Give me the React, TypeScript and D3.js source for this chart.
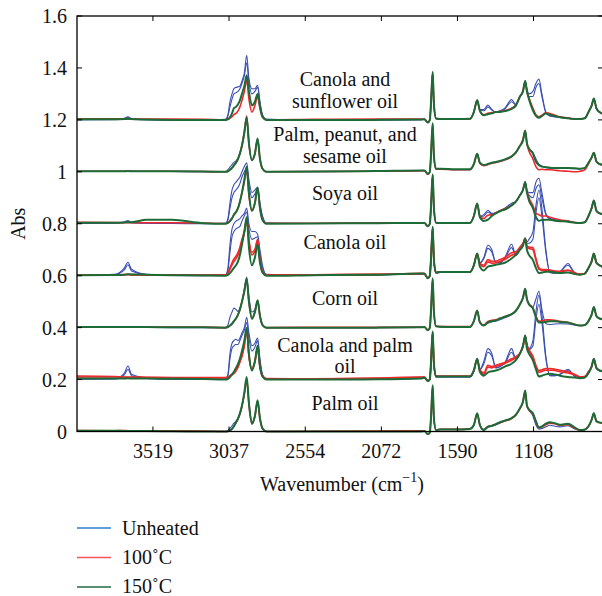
import React from "react";
import * as d3 from "d3";

// Wavenumber grid (cm^-1) shared by every spectrum
const WAVENUMBERS = [
  4000, 3760, 3700, 3677, 3655, 3560, 3400, 3200,
  3060, 3044, 3031, 3018, 3006, 2993, 2980, 2968, 2955,
  2940, 2925, 2911, 2892, 2873, 2856, 2841, 2825, 2800,
  2500, 2100, 1820,
  1800, 1777, 1765, 1758, 1747, 1739, 1726, 1700,
  1600, 1511, 1486, 1465, 1448, 1423, 1397, 1372,
  1347, 1321, 1290, 1247, 1220, 1194, 1175, 1161,
  1150, 1137, 1112, 1093, 1074, 1055, 1030, 1004,
  973, 941, 890, 846, 814, 783, 760, 740,
  726, 710, 690, 650,
];

const X_TICKS = [3519, 3037, 2554, 2072, 1590, 1108];
const Y_TICKS = [0, 0.2, 0.4, 0.6, 0.8, 1, 1.2, 1.4, 1.6];

const GROUP_OFFSETS = [0, 0.2, 0.4, 0.6, 0.8, 1.0, 1.2];
const GROUP_LABELS = [
  ["Palm oil"],
  ["Canola and palm", "oil"],
  ["Corn oil"],
  ["Canola oil"],
  ["Soya oil"],
  ["Palm, peanut, and", "sesame oil"],
  ["Canola and", "sunflower oil"],
];

const LEGEND = ["Unheated", "100\u02DAC", "150\u02DAC"];

// ---- Palm oil (offset 0)
const PALM_B = [
  0.001, 0.001, 0.002, 0.002, 0.001, 0.001, 0.001, 0,
  0, 0.004, 0.012, 0.022, 0.032, 0.04, 0.05, 0.065, 0.095,
  0.145, 0.2, 0.11, 0.035, 0.06, 0.118, 0.05, 0.012, 0,
  0, 0, 0.001,
  0.002, -0.01, -0.004, 0.05, 0.176, 0.05, 0.006, 0.008,
  0.008, 0.01, 0.025, 0.069, 0.027, 0.008, 0.02, 0.022,
  0.026, 0.032, 0.04, 0.05, 0.064, 0.09, 0.115, 0.156,
  0.1, 0.082, 0.06, 0.025, 0.01, 0.012, 0.018, 0.024,
  0.02, 0.018, 0.022, 0.01, 0.005, 0.007, 0.02, 0.045,
  0.07, 0.04, 0.035, 0.03,
];
const PALM_R = [
  0.004, 0.003, 0.004, 0.003, 0.003, 0.002, 0.003, 0.002,
  0, 0.001, 0.004, 0.01, 0.02, 0.033, 0.048, 0.068, 0.098,
  0.145, 0.2, 0.105, 0.03, 0.058, 0.115, 0.05, 0.012, 0,
  0.001, 0.002, 0.003,
  0.003, -0.01, -0.004, 0.05, 0.176, 0.05, 0.006, 0.008,
  0.008, 0.01, 0.025, 0.068, 0.025, 0.006, 0.018, 0.022,
  0.027, 0.034, 0.04, 0.05, 0.063, 0.088, 0.113, 0.155,
  0.1, 0.082, 0.068, 0.038, 0.015, 0.018, 0.026, 0.032,
  0.03, 0.024, 0.026, 0.012, 0.005, 0.007, 0.02, 0.045,
  0.068, 0.04, 0.034, 0.03,
];
const PALM_G = [
  0.003, 0.003, 0.002, 0.002, 0.002, 0.002, 0.001, 0,
  0, 0.001, 0.004, 0.01, 0.02, 0.035, 0.05, 0.07, 0.1,
  0.15, 0.21, 0.11, 0.03, 0.06, 0.12, 0.05, 0.012, 0,
  0, 0, 0,
  0.002, -0.01, -0.004, 0.05, 0.178, 0.05, 0.006, 0.008,
  0.008, 0.01, 0.025, 0.07, 0.025, 0.006, 0.018, 0.022,
  0.028, 0.036, 0.042, 0.052, 0.065, 0.09, 0.115, 0.158,
  0.1, 0.085, 0.07, 0.04, 0.015, 0.02, 0.03, 0.036,
  0.032, 0.026, 0.03, 0.015, 0.006, 0.008, 0.02, 0.045,
  0.07, 0.04, 0.035, 0.03,
];

// ---- Canola and palm oil (offset 0.2)
const CP_B = [
  0.002, 0.003, 0.025, 0.052, 0.02, 0.006, 0.002, 0.001,
  0.002, 0.02, 0.1, 0.14, 0.15, 0.155, 0.15, 0.16, 0.18,
  0.2, 0.24, 0.18, 0.13, 0.14, 0.16, 0.08, 0.02, 0.002,
  0, 0.002, 0.005,
  0.006, -0.006, 0, 0.06, 0.184, 0.06, 0.01, 0.01,
  0.01, 0.01, 0.033, 0.08, 0.04, 0.07, 0.119, 0.1,
  0.045, 0.05, 0.065, 0.119, 0.08, 0.1, 0.13, 0.17,
  0.14, 0.12, 0.15, 0.26, 0.325, 0.25, 0.09, 0.015,
  0.015, 0.02, 0.04, 0.012, 0.006, 0.008, 0.025, 0.05,
  0.078, 0.045, 0.035, 0.03,
];
const CP_B2 = [
  0.001, 0.002, 0.018, 0.04, 0.015, 0.004, 0.001, 0,
  0.001, 0.015, 0.08, 0.12, 0.13, 0.135, 0.135, 0.15, 0.17,
  0.19, 0.22, 0.16, 0.11, 0.125, 0.15, 0.07, 0.018, 0.002,
  0, 0.001, 0.004,
  0.006, -0.006, 0, 0.06, 0.184, 0.06, 0.01, 0.01,
  0.01, 0.01, 0.033, 0.08, 0.038, 0.06, 0.105, 0.09,
  0.045, 0.05, 0.062, 0.105, 0.078, 0.1, 0.13, 0.17,
  0.135, 0.115, 0.13, 0.23, 0.29, 0.22, 0.08, 0.015,
  0.015, 0.02, 0.035, 0.012, 0.006, 0.008, 0.025, 0.05,
  0.078, 0.045, 0.035, 0.03,
];
const CP_R = [
  0.014, 0.012, 0.01, 0.01, 0.01, 0.009, 0.008, 0.008,
  0.008, 0.01, 0.015, 0.02, 0.025, 0.035, 0.05, 0.07, 0.09,
  0.13, 0.19, 0.09, 0.04, 0.07, 0.12, 0.05, 0.015, 0.004,
  0.003, 0.006, 0.01,
  0.01, -0.004, 0.002, 0.06, 0.183, 0.06, 0.014, 0.014,
  0.014, 0.014, 0.035, 0.078, 0.035, 0.02, 0.048, 0.045,
  0.05, 0.055, 0.062, 0.074, 0.085, 0.1, 0.125, 0.165,
  0.13, 0.11, 0.085, 0.05, 0.028, 0.032, 0.036, 0.036,
  0.035, 0.03, 0.025, 0.018, 0.01, 0.012, 0.03, 0.05,
  0.078, 0.045, 0.035, 0.03,
];
const CP_R2 = [
  0.01, 0.01, 0.009, 0.008, 0.008, 0.008, 0.007, 0.006,
  0.006, 0.008, 0.013, 0.018, 0.024, 0.034, 0.048, 0.068, 0.092,
  0.135, 0.195, 0.095, 0.04, 0.07, 0.122, 0.05, 0.014, 0.003,
  0.003, 0.005, 0.009,
  0.009, -0.005, 0.002, 0.06, 0.183, 0.06, 0.013, 0.013,
  0.013, 0.013, 0.035, 0.078, 0.038, 0.025, 0.055, 0.05,
  0.055, 0.06, 0.066, 0.08, 0.088, 0.103, 0.127, 0.165,
  0.132, 0.115, 0.09, 0.055, 0.035, 0.038, 0.042, 0.042,
  0.04, 0.036, 0.03, 0.02, 0.011, 0.012, 0.03, 0.05,
  0.078, 0.045, 0.035, 0.03,
];
const CP_G = [
  0.004, 0.004, 0.004, 0.005, 0.004, 0.004, 0.003, 0.002,
  0, 0.003, 0.01, 0.02, 0.03, 0.045, 0.06, 0.08, 0.11,
  0.15, 0.2, 0.1, 0.035, 0.07, 0.13, 0.05, 0.012, 0,
  0, 0.001, 0.004,
  0.008, -0.006, 0, 0.06, 0.185, 0.06, 0.012, 0.012,
  0.012, 0.012, 0.035, 0.08, 0.03, 0.015, 0.028, 0.032,
  0.035, 0.04, 0.05, 0.061, 0.075, 0.1, 0.13, 0.17,
  0.12, 0.1, 0.074, 0.04, 0.012, 0.015, 0.02, 0.022,
  0.02, 0.015, 0.01, 0.008, 0.005, 0.008, 0.025, 0.05,
  0.08, 0.045, 0.035, 0.03,
];

// ---- Corn oil (offset 0.4)
const CORN_B = [
  0.001, 0.001, 0.001, 0.002, 0.001, 0.001, 0, 0,
  0, 0.01, 0.04, 0.06, 0.075, 0.07, 0.062, 0.075, 0.1,
  0.15, 0.195, 0.12, 0.06, 0.07, 0.1, 0.05, 0.012, 0,
  0, 0, 0.001,
  0.002, -0.01, 0, 0.06, 0.19, 0.06, 0.005, 0.003,
  0.002, 0.002, 0.025, 0.066, 0.02, 0.008, 0.018, 0.022,
  0.025, 0.03, 0.038, 0.05, 0.063, 0.09, 0.115, 0.15,
  0.11, 0.09, 0.08, 0.11, 0.14, 0.07, 0.015, 0.012,
  0.014, 0.015, 0.014, 0.01, 0.007, 0.01, 0.025, 0.05,
  0.078, 0.045, 0.035, 0.03,
];
const CORN_R = [
  0.003, 0.003, 0.003, 0.003, 0.003, 0.003, 0.002, 0.002,
  0, 0.002, 0.008, 0.015, 0.025, 0.035, 0.05, 0.07, 0.1,
  0.14, 0.185, 0.1, 0.035, 0.06, 0.103, 0.045, 0.01, 0,
  0.001, 0.001, 0.002,
  0.003, -0.01, 0, 0.06, 0.188, 0.06, 0.005, 0.004,
  0.004, 0.004, 0.025, 0.066, 0.022, 0.01, 0.024, 0.028,
  0.03, 0.036, 0.042, 0.052, 0.065, 0.09, 0.114, 0.148,
  0.11, 0.092, 0.076, 0.045, 0.025, 0.026, 0.03, 0.03,
  0.028, 0.024, 0.02, 0.012, 0.008, 0.01, 0.025, 0.05,
  0.078, 0.045, 0.035, 0.03,
];
const CORN_G = [
  0.002, 0.002, 0.002, 0.002, 0.002, 0.002, 0.001, 0.001,
  0, 0.002, 0.008, 0.015, 0.025, 0.035, 0.05, 0.07, 0.1,
  0.14, 0.188, 0.1, 0.034, 0.06, 0.105, 0.045, 0.01, 0,
  0, 0, 0.001,
  0.002, -0.01, 0, 0.06, 0.19, 0.06, 0.005, 0.003,
  0.002, 0.002, 0.025, 0.066, 0.02, 0.008, 0.02, 0.025,
  0.028, 0.035, 0.042, 0.052, 0.065, 0.09, 0.115, 0.15,
  0.11, 0.09, 0.074, 0.04, 0.02, 0.02, 0.022, 0.025,
  0.025, 0.022, 0.02, 0.012, 0.008, 0.01, 0.025, 0.05,
  0.079, 0.045, 0.035, 0.03,
];

// ---- Canola oil (offset 0.6)
const CAN_B = [
  0.002, 0.005, 0.03, 0.052, 0.025, 0.005, 0.002, 0.001,
  0.002, 0.03, 0.12, 0.18, 0.2, 0.21, 0.215, 0.22, 0.23,
  0.24, 0.26, 0.2, 0.17, 0.17, 0.16, 0.1, 0.04, 0.005,
  0.001, 0.003, 0.006,
  0.006, -0.01, 0, 0.06, 0.186, 0.06, 0.01, 0.012,
  0.012, 0.012, 0.04, 0.085, 0.05, 0.07, 0.117, 0.1,
  0.05, 0.05, 0.07, 0.121, 0.08, 0.1, 0.12, 0.143,
  0.13, 0.14, 0.17, 0.27, 0.33, 0.26, 0.1, 0.012,
  0.01, 0.015, 0.047, 0.01, 0.004, 0.008, 0.03, 0.055,
  0.085, 0.05, 0.04, 0.03,
];
const CAN_B2 = [
  0.001, 0.004, 0.022, 0.042, 0.018, 0.004, 0.001, 0,
  0.001, 0.02, 0.09, 0.15, 0.17, 0.18, 0.185, 0.19, 0.21,
  0.23, 0.245, 0.18, 0.14, 0.145, 0.15, 0.085, 0.03, 0.004,
  0.001, 0.003, 0.006,
  0.006, -0.01, 0, 0.06, 0.186, 0.06, 0.01, 0.012,
  0.012, 0.012, 0.04, 0.085, 0.048, 0.065, 0.105, 0.09,
  0.05, 0.05, 0.066, 0.108, 0.078, 0.1, 0.12, 0.143,
  0.125, 0.125, 0.14, 0.24, 0.3, 0.23, 0.09, 0.012,
  0.01, 0.015, 0.04, 0.01, 0.004, 0.008, 0.03, 0.055,
  0.085, 0.05, 0.04, 0.03,
];
const CAN_R = [
  0.003, 0.003, 0.004, 0.005, 0.004, 0.003, 0.002, 0.002,
  0.002, 0.01, 0.03, 0.05, 0.065, 0.075, 0.09, 0.11, 0.14,
  0.17, 0.22, 0.14, 0.09, 0.1, 0.14, 0.06, 0.015, 0.002,
  0.003, 0.005, 0.008,
  0.008, -0.01, 0, 0.06, 0.186, 0.06, 0.012, 0.014,
  0.014, 0.014, 0.04, 0.085, 0.045, 0.035, 0.053, 0.048,
  0.05, 0.055, 0.062, 0.079, 0.085, 0.105, 0.12, 0.14,
  0.11, 0.105, 0.1, 0.06, 0.025, 0.02, 0.02, 0.02,
  0.015, 0.015, 0.02, 0.01, 0.005, 0.008, 0.03, 0.055,
  0.085, 0.05, 0.04, 0.03,
];
const CAN_R2 = [
  0.003, 0.003, 0.003, 0.004, 0.003, 0.003, 0.002, 0.002,
  0.002, 0.008, 0.025, 0.042, 0.055, 0.065, 0.08, 0.1, 0.13,
  0.165, 0.215, 0.13, 0.08, 0.095, 0.135, 0.058, 0.014, 0.002,
  0.003, 0.005, 0.008,
  0.008, -0.01, 0, 0.06, 0.186, 0.06, 0.012, 0.014,
  0.014, 0.014, 0.04, 0.085, 0.048, 0.04, 0.062, 0.055,
  0.056, 0.062, 0.07, 0.088, 0.092, 0.11, 0.125, 0.145,
  0.115, 0.11, 0.108, 0.066, 0.03, 0.024, 0.024, 0.022,
  0.018, 0.017, 0.022, 0.011, 0.005, 0.008, 0.03, 0.055,
  0.085, 0.05, 0.04, 0.03,
];
const CAN_G = [
  0.002, 0.003, 0.004, 0.006, 0.005, 0.004, 0.002, 0.001,
  0, 0.003, 0.01, 0.02, 0.03, 0.04, 0.055, 0.08, 0.12,
  0.17, 0.225, 0.11, 0.04, 0.07, 0.12, 0.05, 0.012, 0,
  0.002, 0.004, 0.008,
  0.008, -0.01, 0, 0.06, 0.188, 0.06, 0.012, 0.014,
  0.014, 0.014, 0.04, 0.085, 0.035, 0.02, 0.035, 0.038,
  0.042, 0.045, 0.05, 0.066, 0.08, 0.1, 0.115, 0.143,
  0.1, 0.08, 0.06, 0.03, 0.01, 0.012, 0.015, 0.015,
  0.012, 0.01, 0.012, 0.006, 0.004, 0.008, 0.03, 0.055,
  0.085, 0.05, 0.04, 0.03,
];

// ---- Soya oil (offset 0.8)
const SOY_B = [
  0.002, 0.003, 0.008, 0.012, 0.005, 0.003, 0.002, 0.001,
  0.002, 0.02, 0.08, 0.13, 0.15, 0.16, 0.17, 0.18, 0.2,
  0.22, 0.235, 0.17, 0.12, 0.13, 0.14, 0.08, 0.03, 0.003,
  0.001, 0.002, 0.003,
  0.003, -0.01, 0, 0.06, 0.19, 0.06, 0.004, 0.003,
  0.003, 0.003, 0.03, 0.078, 0.03, 0.035, 0.052, 0.04,
  0.042, 0.05, 0.06, 0.079, 0.085, 0.11, 0.13, 0.161,
  0.13, 0.12, 0.12, 0.16, 0.175, 0.12, 0.04, 0.02,
  0.015, 0.012, 0.01, 0.005, 0.003, 0.006, 0.03, 0.06,
  0.09, 0.05, 0.04, 0.035,
];
const SOY_B2 = [
  0.001, 0.002, 0.005, 0.008, 0.004, 0.002, 0.001, 0,
  0.001, 0.015, 0.06, 0.1, 0.12, 0.13, 0.14, 0.155, 0.18,
  0.2, 0.215, 0.15, 0.1, 0.115, 0.135, 0.07, 0.025, 0.002,
  0.001, 0.002, 0.003,
  0.003, -0.01, 0, 0.06, 0.19, 0.06, 0.004, 0.003,
  0.003, 0.003, 0.03, 0.078, 0.028, 0.03, 0.045, 0.038,
  0.042, 0.05, 0.058, 0.072, 0.085, 0.11, 0.13, 0.161,
  0.125, 0.11, 0.1, 0.135, 0.15, 0.1, 0.035, 0.018,
  0.014, 0.012, 0.01, 0.005, 0.003, 0.006, 0.03, 0.06,
  0.09, 0.05, 0.04, 0.035,
];
const SOY_R = [
  0.006, 0.005, 0.004, 0.004, 0.004, 0.004, 0.004, 0.003,
  0.001, 0.004, 0.012, 0.022, 0.035, 0.045, 0.06, 0.085, 0.12,
  0.16, 0.21, 0.11, 0.05, 0.08, 0.135, 0.06, 0.015, 0.002,
  0.002, 0.003, 0.004,
  0.004, -0.01, 0, 0.06, 0.188, 0.06, 0.005, 0.004,
  0.004, 0.004, 0.03, 0.078, 0.03, 0.02, 0.033, 0.035,
  0.042, 0.05, 0.058, 0.072, 0.086, 0.11, 0.13, 0.16,
  0.125, 0.1, 0.07, 0.04, 0.035, 0.03, 0.03, 0.025,
  0.02, 0.015, 0.01, 0.005, 0.003, 0.006, 0.03, 0.06,
  0.088, 0.05, 0.04, 0.035,
];
const SOY_G = [
  0.004, 0.004, 0.005, 0.006, 0.006, 0.015, 0.015, 0.002,
  0, 0.003, 0.01, 0.02, 0.035, 0.045, 0.06, 0.085, 0.12,
  0.17, 0.22, 0.12, 0.05, 0.08, 0.14, 0.06, 0.015, 0,
  0.001, 0.002, 0.003,
  0.003, -0.01, 0, 0.06, 0.19, 0.06, 0.004, 0.003,
  0.003, 0.003, 0.03, 0.078, 0.025, 0.011, 0.016, 0.03,
  0.04, 0.048, 0.055, 0.07, 0.085, 0.11, 0.13, 0.161,
  0.12, 0.09, 0.06, 0.026, 0.012, 0.014, 0.015, 0.015,
  0.012, 0.01, 0.008, 0.004, 0.003, 0.006, 0.03, 0.06,
  0.09, 0.05, 0.04, 0.035,
];

// ---- Palm, peanut, and sesame oil (offset 1.0)
const PPS_B = [
  0.001, 0.001, 0.002, 0.003, 0.002, 0.001, 0.001, 0,
  0, 0.008, 0.018, 0.028, 0.036, 0.042, 0.052, 0.07, 0.1,
  0.145, 0.2, 0.11, 0.045, 0.07, 0.125, 0.05, 0.012, 0,
  0, 0.002, 0.004,
  0.004, -0.008, 0, 0.06, 0.186, 0.06, 0.01, 0.01,
  0.008, 0.008, 0.03, 0.07, 0.033, 0.025, 0.03, 0.035,
  0.037, 0.04, 0.046, 0.058, 0.074, 0.1, 0.12, 0.156,
  0.11, 0.09, 0.075, 0.05, 0.03, 0.022, 0.016, 0.014,
  0.013, 0.013, 0.013, 0.012, 0.011, 0.014, 0.035, 0.055,
  0.073, 0.04, 0.03, 0.025,
];
const PPS_R = [
  0.002, 0.002, 0.002, 0.002, 0.002, 0.002, 0.002, 0.001,
  0, 0.002, 0.008, 0.015, 0.025, 0.035, 0.05, 0.072, 0.105,
  0.155, 0.215, 0.11, 0.045, 0.07, 0.125, 0.05, 0.012, 0,
  0.001, 0.002, 0.004,
  0.005, -0.01, 0, 0.06, 0.186, 0.06, 0.01, 0.01,
  0.008, 0.008, 0.028, 0.068, 0.032, 0.024, 0.028, 0.033,
  0.036, 0.04, 0.046, 0.058, 0.073, 0.1, 0.125, 0.16,
  0.11, 0.08, 0.05, 0.02, 0.008, 0.01, 0.008, 0.008,
  0.006, 0.004, 0.002, 0, 0.002, 0.008, 0.03, 0.055,
  0.073, 0.04, 0.03, 0.025,
];
const PPS_G = [
  0.002, 0.002, 0.002, 0.003, 0.002, 0.002, 0.002, 0.001,
  0, 0.002, 0.008, 0.015, 0.025, 0.035, 0.05, 0.07, 0.1,
  0.15, 0.21, 0.11, 0.045, 0.07, 0.128, 0.05, 0.012, 0,
  0.001, 0.003, 0.005,
  0.005, -0.008, 0, 0.06, 0.187, 0.06, 0.012, 0.012,
  0.01, 0.01, 0.03, 0.07, 0.035, 0.026, 0.03, 0.035,
  0.038, 0.042, 0.048, 0.06, 0.075, 0.1, 0.12, 0.158,
  0.11, 0.09, 0.07, 0.04, 0.025, 0.02, 0.018, 0.016,
  0.015, 0.015, 0.015, 0.014, 0.012, 0.015, 0.035, 0.055,
  0.073, 0.04, 0.03, 0.025,
];

// ---- Canola and sunflower oil (offset 1.2)
const CS_B = [
  0.001, 0.002, 0.006, 0.012, 0.005, 0.001, 0, 0,
  0.002, 0.02, 0.07, 0.1, 0.12, 0.125, 0.127, 0.13, 0.15,
  0.18, 0.249, 0.16, 0.12, 0.12, 0.133, 0.07, 0.02, 0.002,
  0, 0, 0.001,
  0.002, -0.01, 0, 0.06, 0.184, 0.06, 0.005, 0.003,
  0.003, 0.004, 0.03, 0.076, 0.04, 0.04, 0.057, 0.04,
  0.03, 0.035, 0.045, 0.078, 0.06, 0.09, 0.11, 0.15,
  0.12, 0.1, 0.11, 0.14, 0.157, 0.1, 0.03, 0.015,
  0.012, 0.01, 0.006, 0.003, 0.003, 0.006, 0.03, 0.055,
  0.082, 0.045, 0.03, 0.02,
];
const CS_B2 = [
  0.001, 0.001, 0.004, 0.009, 0.004, 0.001, 0, 0,
  0.001, 0.015, 0.05, 0.08, 0.1, 0.105, 0.11, 0.12, 0.14,
  0.17, 0.22, 0.145, 0.1, 0.11, 0.125, 0.065, 0.018, 0.002,
  0, 0, 0.001,
  0.002, -0.01, 0, 0.06, 0.184, 0.06, 0.005, 0.003,
  0.003, 0.004, 0.03, 0.076, 0.038, 0.035, 0.05, 0.038,
  0.03, 0.034, 0.042, 0.07, 0.058, 0.09, 0.11, 0.15,
  0.115, 0.09, 0.09, 0.125, 0.14, 0.09, 0.028, 0.015,
  0.012, 0.01, 0.006, 0.003, 0.003, 0.006, 0.03, 0.055,
  0.082, 0.045, 0.03, 0.02,
];
const CS_R = [
  0.004, 0.004, 0.004, 0.004, 0.003, 0.003, 0.003, 0.002,
  0, 0.002, 0.006, 0.012, 0.02, 0.025, 0.035, 0.05, 0.075,
  0.11, 0.153, 0.08, 0.03, 0.055, 0.09, 0.045, 0.01, 0,
  0.002, 0.003, 0.003,
  0.003, -0.01, 0, 0.06, 0.182, 0.06, 0.005, 0.004,
  0.004, 0.004, 0.03, 0.075, 0.035, 0.02, 0.025, 0.028,
  0.03, 0.032, 0.036, 0.045, 0.058, 0.09, 0.11, 0.148,
  0.11, 0.085, 0.045, 0.02, 0.012, 0.018, 0.028, 0.024,
  0.018, 0.012, 0.008, 0.003, 0.003, 0.006, 0.03, 0.055,
  0.08, 0.045, 0.03, 0.02,
];
const CS_G = [
  0.002, 0.002, 0.003, 0.004, 0.003, 0.001, 0, 0,
  0, 0.003, 0.01, 0.025, 0.045, 0.05, 0.06, 0.075, 0.1,
  0.13, 0.172, 0.11, 0.056, 0.07, 0.1, 0.05, 0.012, 0,
  0, 0, 0.001,
  0.002, -0.01, 0, 0.06, 0.184, 0.06, 0.005, 0.003,
  0.003, 0.004, 0.03, 0.076, 0.035, 0.018, 0.022, 0.025,
  0.03, 0.03, 0.034, 0.042, 0.055, 0.09, 0.11, 0.15,
  0.11, 0.08, 0.037, 0.015, 0.008, 0.015, 0.025, 0.02,
  0.015, 0.01, 0.006, 0.003, 0.003, 0.006, 0.03, 0.055,
  0.082, 0.045, 0.03, 0.02,
];

// Which spectrum belongs to which group and treatment (0 = unheated, 1 = 100 °C, 2 = 150 °C)
const SPECTRA: { group: number; treatment: number; values: number[] }[] = [
  { group: 0, treatment: 0, values: PALM_B },
  { group: 0, treatment: 1, values: PALM_R },
  { group: 0, treatment: 2, values: PALM_G },
  { group: 1, treatment: 0, values: CP_B },
  { group: 1, treatment: 0, values: CP_B2 },
  { group: 1, treatment: 1, values: CP_R },
  { group: 1, treatment: 1, values: CP_R2 },
  { group: 1, treatment: 2, values: CP_G },
  { group: 2, treatment: 0, values: CORN_B },
  { group: 2, treatment: 1, values: CORN_R },
  { group: 2, treatment: 2, values: CORN_G },
  { group: 3, treatment: 0, values: CAN_B },
  { group: 3, treatment: 0, values: CAN_B2 },
  { group: 3, treatment: 1, values: CAN_R },
  { group: 3, treatment: 1, values: CAN_R2 },
  { group: 3, treatment: 2, values: CAN_G },
  { group: 4, treatment: 0, values: SOY_B },
  { group: 4, treatment: 0, values: SOY_B2 },
  { group: 4, treatment: 1, values: SOY_R },
  { group: 4, treatment: 2, values: SOY_G },
  { group: 5, treatment: 0, values: PPS_B },
  { group: 5, treatment: 1, values: PPS_R },
  { group: 5, treatment: 2, values: PPS_G },
  { group: 6, treatment: 0, values: CS_B },
  { group: 6, treatment: 0, values: CS_B2 },
  { group: 6, treatment: 1, values: CS_R },
  { group: 6, treatment: 2, values: CS_G },
];

const LINE_COLORS = ["#3b4fb3", "#ec2a2c", "#1d6b36"];
const LINE_WIDTHS = [1.1, 1.6, 2];
const LEGEND_COLORS = ["#2b7fd3", "#f2555a", "#22693f"];

// label baselines in pixels (layout)
const LABEL_BASELINES = [[410], [352, 373], [305], [249], [200], [141, 163], [86, 108]];

const FONT = "Liberation Serif, Tinos, Times New Roman, DejaVu Serif, serif";

export default function App() {
  const W = 602;
  const H = 596;
  const left = 77, right = 603, top = 16, bottom = 431.5;
  const x = d3.scaleLinear().domain([4000, 668]).range([left, right]);
  const y = d3.scaleLinear().domain([0, 1.6]).range([bottom, top]);

  const makePath = (vals: number[], off: number) =>
    d3
      .line<number>()
      .x((_, i) => x(WAVENUMBERS[i]))
      .y((v) => y(v + off))
      .curve(d3.curveMonotoneX)(vals) || "";

  const ordered = [0, 1, 2].flatMap((t) => SPECTRA.filter((s) => s.treatment === t));
  const tick = 5;
  const textStyle = { fontFamily: FONT, fontSize: 20, fill: "#111" } as React.CSSProperties;

  return (
    <div style={{ position: "absolute", left: 0, top: 0 }}>
      <svg width={W} height={H} style={{ display: "block", background: "#fff" }}>
        <defs>
          <clipPath id="plotclip">
            <rect x={left} y={top - 2} width={right - left} height={bottom - top + 6} />
          </clipPath>
        </defs>
        <rect x={0} y={0} width={W} height={H} fill="#fff" />
        <g clipPath="url(#plotclip)">
          {ordered.map((s, i) => (
            <path
              key={i}
              d={makePath(s.values, GROUP_OFFSETS[s.group])}
              fill="none"
              stroke={LINE_COLORS[s.treatment]}
              strokeWidth={LINE_WIDTHS[s.treatment]}
              strokeLinejoin="round"
            />
          ))}
        </g>
        {/* frame */}
        <rect x={left} y={top} width={right - left} height={bottom - top} fill="none" stroke="#000" strokeWidth={1.3} />
        {/* x ticks */}
        {X_TICKS.map((t) => (
          <g key={"x" + t}>
            <line x1={x(t)} x2={x(t)} y1={bottom} y2={bottom - tick} stroke="#000" strokeWidth={1} />
            <line x1={x(t)} x2={x(t)} y1={top} y2={top + tick} stroke="#000" strokeWidth={1} />
            <text x={x(t)} y={458} textAnchor="middle" style={textStyle}>
              {t}
            </text>
          </g>
        ))}
        {/* y ticks */}
        {Y_TICKS.map((t) => (
          <g key={"y" + t}>
            <line x1={left} x2={left + tick} y1={y(t)} y2={y(t)} stroke="#000" strokeWidth={1} />
            <line x1={right} x2={right - tick} y1={y(t)} y2={y(t)} stroke="#000" strokeWidth={1} />
            <text x={67} y={y(t) + 7} textAnchor="end" style={textStyle}>
              {String(t)}
            </text>
          </g>
        ))}
        {/* group labels */}
        {GROUP_LABELS.map((lines, g) =>
          lines.map((ln, j) => (
            <text key={g + "-" + j} x={345} y={LABEL_BASELINES[g][j]} textAnchor="middle" style={textStyle}>
              {ln}
            </text>
          ))
        )}
        {/* axis titles */}
        <text transform={`translate(25,${(top + bottom) / 2}) rotate(-90)`} textAnchor="middle" style={textStyle}>
          Abs
        </text>
        <text x={342} y={491} textAnchor="middle" style={textStyle}>
          Wavenumber (cm
          <tspan dy={-9} style={{ fontSize: 14 }}>
            {"\u22121"}
          </tspan>
          <tspan dy={9}>)</tspan>
        </text>
        {/* legend */}
        {LEGEND.map((lab, i) => (
          <g key={lab}>
            <line x1={77} x2={111} y1={528 + i * 29.5} y2={528 + i * 29.5} stroke={LEGEND_COLORS[i]} strokeWidth={1.5} />
            <text x={122} y={534.5 + i * 29.3} style={textStyle}>
              {lab}
            </text>
          </g>
        ))}
      </svg>
    </div>
  );
}
